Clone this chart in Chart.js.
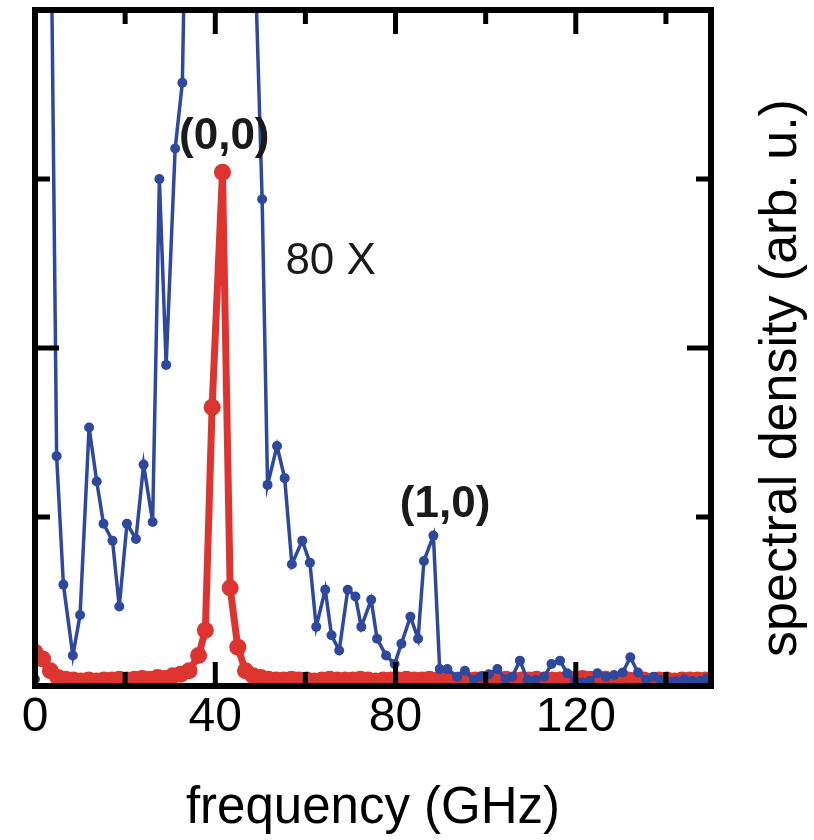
<!DOCTYPE html>
<html>
<head>
<meta charset="utf-8">
<script src="https://cdn.jsdelivr.net/npm/chart.js@4.4.1/dist/chart.umd.min.js"></script>
<style>
  html, body { margin: 0; padding: 0; background: #fff; }
</style>
</head>
<body>
<canvas id="spectrumCanvas" width="814" height="840"></canvas>
<script>
// 80x magnified spectrum (blue), GHz / arb. u.
const blueFreq = [0.0, 1.5, 3.1, 4.8, 6.3, 8.4, 10.0, 12.0, 13.7, 15.2, 17.2, 18.7, 20.4, 22.4, 24.1, 26.1,
    27.6, 29.1, 31.1, 32.7, 34.5, 36.2, 38.0, 39.8, 41.5, 43.3, 45.0, 46.8, 48.6, 50.4, 51.6, 53.7,
    55.4, 57.0, 59.3, 61.0, 62.4, 64.4, 65.8, 67.5, 69.4, 71.1, 72.4, 74.6, 75.9, 77.9, 79.8, 81.3,
    83.3, 85.0, 86.3, 88.4, 89.8, 91.5, 93.7, 95.4, 97.4, 98.9, 100.7, 102.6, 104.4, 105.9, 107.6,
    109.3, 111.0, 113.0, 114.6, 116.5, 118.1, 119.8, 121.5, 123.1, 124.8, 126.7, 128.5, 130.4, 132.1,
    133.8, 135.6, 137.3, 138.9, 140.7, 142.2, 144.1, 145.9, 147.6, 149.1];
const blueVals = [0.04, 30, 5.7, 1.36, 0.60, 0.18, 0.42, 1.53, 1.21, 0.96, 0.86, 0.47, 0.96, 0.87, 1.31, 0.97,
    3.00, 1.90, 3.18, 3.57, 6.3, 12, 25, 130, 240, 45, 17, 9, 4.5, 2.88, 1.19, 1.42,
    1.23, 0.72, 0.86, 0.73, 0.35, 0.57, 0.30, 0.21, 0.57, 0.53, 0.35, 0.51, 0.28, 0.18, 0.13, 0.25,
    0.41, 0.28, 0.74, 0.89, 0.10, 0.10, 0.055, 0.09, 0.035, 0.055, 0.07, 0.10, 0.04, 0.055, 0.15,
    0.035, 0.035, 0.055, 0.13, 0.15, 0.075, 0.03, 0.02, 0.03, 0.075, 0.055, 0.065, 0.08, 0.17,
    0.08, 0.035, 0.055, 0.035, 0.025, 0.03, 0.04, 0.03, 0.03, 0.045];

// unscaled spectrum (red), (0,0) mode
const redFreq = [0.0, 1.7, 3.4, 5.1, 6.8, 8.5, 10.2, 11.9, 13.6, 15.3, 17.0, 18.7, 20.4, 22.1, 23.8, 25.5,
    27.2, 28.9, 30.6, 32.3, 34.2, 36.3, 37.8, 39.3, 41.6, 43.3, 45.0, 46.7, 48.4, 50.1, 51.8, 53.5,
    55.2, 56.9, 58.6, 60.3, 62.0, 63.7, 65.4, 67.1, 68.8, 70.5, 72.2, 73.9, 75.6, 77.3, 79.0, 80.7,
    82.4, 84.1, 85.8, 87.5, 89.2, 90.9, 92.6, 94.3, 96.0, 97.7, 99.4, 101.1, 102.8, 104.5, 106.2,
    107.9, 109.6, 111.3, 113.0, 114.7, 116.4, 118.1, 119.8, 121.5, 123.2, 124.9, 126.6, 128.3, 130.0,
    131.7, 133.4, 135.1, 136.8, 138.5, 140.2, 141.9, 143.6, 145.3, 147.0, 148.7];
const redVals = [0.20, 0.16, 0.09, 0.05, 0.04, 0.035, 0.03, 0.035, 0.03, 0.035, 0.035, 0.04, 0.035, 0.04, 0.045, 0.04,
    0.05, 0.045, 0.06, 0.07, 0.09, 0.18, 0.33, 1.65, 3.04, 0.58, 0.23, 0.09, 0.06, 0.05, 0.04, 0.035,
    0.035, 0.04, 0.035, 0.035, 0.03, 0.035, 0.04, 0.035, 0.035, 0.035, 0.04, 0.035, 0.03, 0.035, 0.035, 0.035,
    0.04, 0.035, 0.035, 0.04, 0.035, 0.035, 0.03, 0.035, 0.035, 0.035, 0.04, 0.035, 0.035, 0.04, 0.035,
    0.035, 0.035, 0.04, 0.035, 0.035, 0.035, 0.04, 0.04, 0.045, 0.04, 0.035, 0.04, 0.035, 0.035,
    0.035, 0.035, 0.035, 0.03, 0.035, 0.035, 0.03, 0.035, 0.035, 0.035, 0.035];

const xTickMarks = [20, 40, 60, 80, 100, 120, 140];
const yTickMarks = [1, 2, 3];

const annotTexts = ['(0,0)', '(1,0)', '80 X'];
const annotFreq = [42.0, 91.0, 65.6];
const annotLevel = [3.18, 1.00, 2.44];
const annotBold = [true, true, false];

const BLUE = '#2d489c';
const RED = '#de3430';
const FONT = '"Liberation Sans", Arial, Helvetica, sans-serif';

function toPoints(xs, ys) {
    return xs.map((x, i) => ({ x: x, y: ys[i] }));
}

const framePlugin = {
    id: 'frame',
    afterDatasetsDraw(chart) {
        const ctx = chart.ctx;
        const a = chart.chartArea;
        const xs = chart.scales.x;
        const ys = chart.scales.y;
        ctx.save();
        ctx.strokeStyle = '#000';
        ctx.lineWidth = 6;
        ctx.strokeRect(a.left, a.top, a.right - a.left, a.bottom - a.top);

        ctx.lineWidth = 5;
        ctx.beginPath();
        xTickMarks.forEach(v => {
            const px = xs.getPixelForValue(v);
            const len = v % 40 === 0 ? 24 : 14;
            ctx.moveTo(px, a.bottom); ctx.lineTo(px, a.bottom - len);
            ctx.moveTo(px, a.top); ctx.lineTo(px, a.top + len);
        });
        yTickMarks.forEach(v => {
            const py = ys.getPixelForValue(v);
            const len = v % 2 === 0 ? 24 : 15;
            ctx.moveTo(a.left, py); ctx.lineTo(a.left + len, py);
            ctx.moveTo(a.right, py); ctx.lineTo(a.right - len, py);
        });
        ctx.stroke();

        // peak labels
        ctx.fillStyle = '#1a1a1a';
        ctx.textAlign = 'center';
        ctx.textBaseline = 'alphabetic';
        annotTexts.forEach((t, i) => {
            ctx.font = (annotBold[i] ? 'bold ' : '') + '44px ' + FONT;
            ctx.fillText(t, xs.getPixelForValue(annotFreq[i]), ys.getPixelForValue(annotLevel[i]));
        });

        // y axis title on the right, reading bottom to top
        ctx.fillStyle = '#000';
        ctx.font = '52px ' + FONT;
        ctx.translate(a.right + 71, (a.top + a.bottom) / 2 + 30);
        ctx.rotate(-Math.PI / 2);
        ctx.textBaseline = 'middle';
        ctx.fillText('spectral density (arb. u.)', 0, 0);
        ctx.restore();
    }
};

const ctx = document.getElementById('spectrumCanvas').getContext('2d');
const chart = new Chart(ctx, {
    type: 'scatter',
    data: {
        datasets: [
            {
                label: '80 X',
                data: toPoints(blueFreq, blueVals),
                showLine: true,
                borderColor: BLUE,
                backgroundColor: BLUE,
                borderWidth: 3.5,
                pointRadius: 5,
                pointBorderWidth: 0,
                tension: 0
            },
            {
                label: '(0,0)',
                data: toPoints(redFreq, redVals),
                showLine: true,
                borderColor: RED,
                backgroundColor: RED,
                borderWidth: 7,
                pointRadius: 8.5,
                pointBorderWidth: 0,
                tension: 0
            }
        ]
    },
    options: {
        responsive: false,
        animation: false,
        devicePixelRatio: 1,
        layout: { padding: { left: 35, right: 103, top: 10, bottom: 0 } },
        plugins: {
            legend: { display: false },
            tooltip: { enabled: false }
        },
        scales: {
            x: {
                type: 'linear',
                position: 'bottom',
                min: 0,
                max: 150,
                grid: { display: false, drawTicks: false },
                border: { display: false },
                ticks: {
                    stepSize: 40,
                    includeBounds: false,
                    maxRotation: 0,
                    autoSkip: false,
                    padding: 8,
                    color: '#000',
                    font: { family: FONT, size: 48, lineHeight: 1 }
                },
                title: {
                    display: true,
                    text: 'frequency (GHz)',
                    color: '#000',
                    padding: 0,
                    font: { family: FONT, size: 51 }
                },
                afterFit: s => { s.height = 154; }
            },
            y: {
                type: 'linear',
                min: 0,
                max: 4,
                display: false
            }
        }
    },
    plugins: [framePlugin]
});
</script>
</body>
</html>
